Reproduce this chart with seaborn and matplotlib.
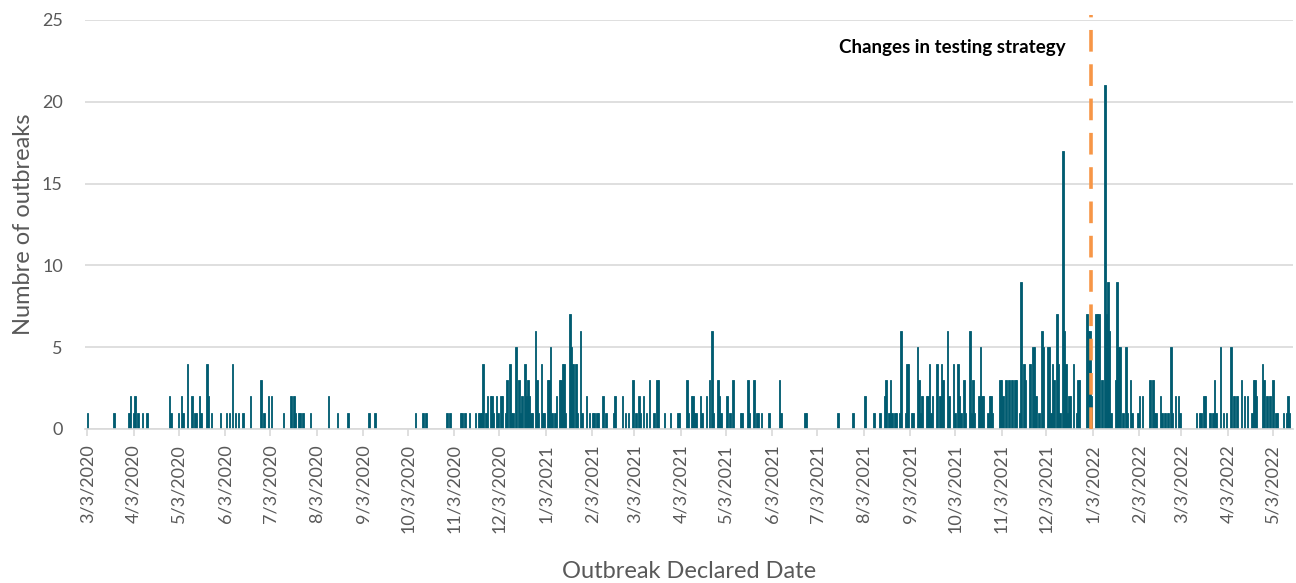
import matplotlib
matplotlib.use('Agg')
import matplotlib.pyplot as plt
import pandas as pd
import seaborn as sns

# Daily outbreak counts, day = days after 3 Mar 2020
start_date = pd.Timestamp('2020-03-03')
end_date = pd.Timestamp('2022-05-16')
policy_change_date = pd.Timestamp('2022-01-02')
policy_label = 'Changes in testing strategy'

outbreak_day = [
    0, 18, 28, 29, 31, 32, 34, 37, 40, 55, 56, 61, 63, 64, 67, 70, 72, 73, 75, 76,
    80, 81, 83, 89, 93, 95, 97, 99, 101, 104,
    109, 116, 118, 121, 123, 131, 136, 138, 139, 141, 142, 144, 149, 161, 167, 174, 188, 192,
    219, 224, 226, 240, 242, 249, 250, 252, 255, 259, 261, 262, 263, 264, 266, 267, 269, 270,
    271, 273, 274, 276, 277, 279, 280, 282, 283, 284, 286, 288, 289, 290, 292, 293, 294, 295,
    296, 297, 299, 300, 301,
    303, 304, 305, 307, 308, 309, 310, 312, 313, 315, 316, 317, 318, 319, 322, 323, 324, 326,
    327, 329, 330, 333, 335, 337, 338, 340, 341, 344, 346, 351, 352, 357, 359, 361, 364, 366,
    368, 369, 371, 373, 375, 378, 380, 381, 385,
    389, 394, 395, 400, 401, 403, 404, 405, 406, 409, 410, 413, 415, 417, 418, 421, 422, 423,
    427, 429, 431, 436, 437, 441, 442, 445, 447, 448, 450, 455, 462, 463,
    479, 480, 501, 511, 519, 525, 529, 532, 533, 535, 536, 537, 539, 540, 542, 543, 546, 547,
    548, 550, 551, 554, 555, 556, 557, 560, 561, 562,
    563, 564, 567, 569, 570, 571, 574, 575, 578, 579, 581, 582, 583, 585, 586, 589, 590, 591,
    592, 595, 596, 597, 598, 601, 602, 603, 604, 609, 610, 611, 613, 615, 617, 619, 620, 622,
    623, 625, 626, 629, 631,
    632, 633, 635, 637, 638, 641, 642, 643, 644, 645, 647, 648, 649, 651, 652, 653, 654, 655,
    656, 658, 660, 661, 662, 667, 668, 669, 670,
    673, 674, 675, 677, 679, 680, 681, 682, 683, 686, 687, 688, 689, 691, 693, 694, 696, 697,
    701, 702, 704, 709, 711, 712, 713, 716, 717, 719, 721, 723, 724, 726, 728, 729,
    740, 742, 743, 745, 746, 749, 751, 752, 753, 756, 758, 760, 763, 765, 767, 770, 772, 774,
    777, 778, 779, 780, 784, 785, 787, 789, 791, 793, 794, 798, 800, 801, 802,
]
outbreak_count = [
    1, 1, 1, 2, 1, 2, 1, 1, 1, 2, 1, 1, 2, 1, 4, 2, 1, 1, 2, 1,
    4, 2, 1, 1, 1, 1, 4, 1, 1, 1,
    2, 3, 1, 2, 2, 1, 2, 2, 1, 1, 1, 1, 1, 2, 1, 1, 1, 1,
    1, 1, 1, 1, 1, 1, 1, 1, 1, 1, 1, 1, 1, 4, 1, 2, 2, 2,
    1, 2, 1, 2, 2, 1, 3, 4, 1, 1, 5, 3, 1, 2, 4, 2, 3, 2,
    1, 1, 6, 3, 1,
    4, 1, 1, 3, 3, 5, 1, 1, 2, 3, 3, 4, 4, 1, 7, 5, 4, 4,
    1, 6, 1, 2, 1, 1, 1, 1, 1, 2, 1, 1, 2, 2, 1, 1, 3, 1,
    2, 1, 2, 1, 3, 1, 3, 3, 1,
    1, 1, 1, 3, 1, 2, 2, 1, 1, 2, 1, 2, 3, 6, 1, 3, 2, 1,
    2, 1, 3, 1, 1, 3, 1, 3, 1, 1, 1, 1, 3, 1,
    1, 1, 1, 1, 2, 1, 1, 2, 3, 1, 3, 1, 1, 1, 1, 6, 1, 4,
    4, 1, 1, 5, 3, 1, 2, 2, 2, 4,
    1, 2, 4, 2, 4, 3, 6, 2, 4, 1, 4, 2, 1, 3, 1, 6, 1, 3,
    1, 2, 5, 2, 2, 1, 2, 2, 1, 3, 3, 2, 3, 3, 3, 3, 3, 1,
    9, 4, 3, 4, 5,
    5, 2, 1, 6, 5, 5, 5, 1, 4, 3, 7, 4, 1, 17, 6, 4, 1, 2,
    2, 4, 1, 3, 3, 7, 6, 6, 2,
    7, 7, 7, 3, 21, 7, 9, 6, 1, 3, 9, 5, 5, 1, 5, 1, 3, 1,
    1, 2, 2, 3, 3, 1, 1, 2, 1, 1, 1, 5, 1, 2, 2, 1,
    1, 1, 1, 2, 2, 1, 1, 3, 1, 5, 1, 1, 5, 2, 2, 3, 2, 2,
    1, 3, 3, 2, 4, 3, 2, 2, 3, 1, 1, 1, 1, 2, 1,
]
y_ticks = [0, 5, 10, 15, 20, 25]

df = pd.DataFrame({'day': outbreak_day, 'count': outbreak_count})

sns.set_theme(style='white')
plt.rcParams['font.family'] = ['Lato', 'DejaVu Sans']

fig = plt.figure(figsize=(12.96, 5.83), dpi=100)
ax = fig.add_axes([0.0656, 0.2642, 0.9321, 0.7015])

bar_color = '#005b70'
sns.barplot(data=df, x='day', y='count', native_scale=True, color=bar_color,
            saturation=1, width=1.0, errorbar=None, estimator='sum',
            edgecolor=bar_color, linewidth=0.6, ax=ax)

# monthly ticks on the 3rd
month_ticks = pd.date_range(start_date, end_date, freq=pd.DateOffset(months=1))
tick_pos = [(t - start_date).days for t in month_ticks]
tick_lab = [f'{t.month}/{t.day}/{t.year}' for t in month_ticks]
ax.set_xticks(tick_pos)
ax.set_xticklabels(tick_lab, rotation=90, fontsize=13, color='#595959')
ax.set_xlim(-1.5, (end_date - start_date).days + 0.5)

ax.set_ylim(0, 25)
ax.set_yticks(y_ticks)
ax.set_yticklabels([str(v) for v in y_ticks], fontsize=13, color='#595959')

ax.yaxis.grid(True, color='#d9d9d9', linewidth=1.2)
ax.set_axisbelow(True)
sns.despine(ax=ax, left=True)
ax.spines['bottom'].set_color('#d9d9d9')
ax.spines['bottom'].set_linewidth(1.2)
ax.tick_params(axis='x', bottom=True, length=5, color='#d9d9d9', width=1.2, pad=6)
ax.tick_params(axis='y', length=0, pad=16)

ax.set_xlabel('Outbreak Declared Date', fontsize=17, color='#595959')
ax.xaxis.set_label_coords(0.5, -0.322)
ax.set_ylabel('Numbre of outbreaks', fontsize=17, color='#595959', labelpad=6)

# testing strategy change
change_x = (policy_change_date - start_date).days
ax.axvline(change_x, ymin=0, ymax=1.012, color='#f79646', linewidth=2.6,
           linestyle=(0, (6, 3.5)), clip_on=False, zorder=3)
ax.text(change_x - 17, 23.3, policy_label, ha='right', va='center',
        fontsize=13.5, fontweight='bold', color='black')

fig.savefig('out.png', dpi=100)
plt.close()
